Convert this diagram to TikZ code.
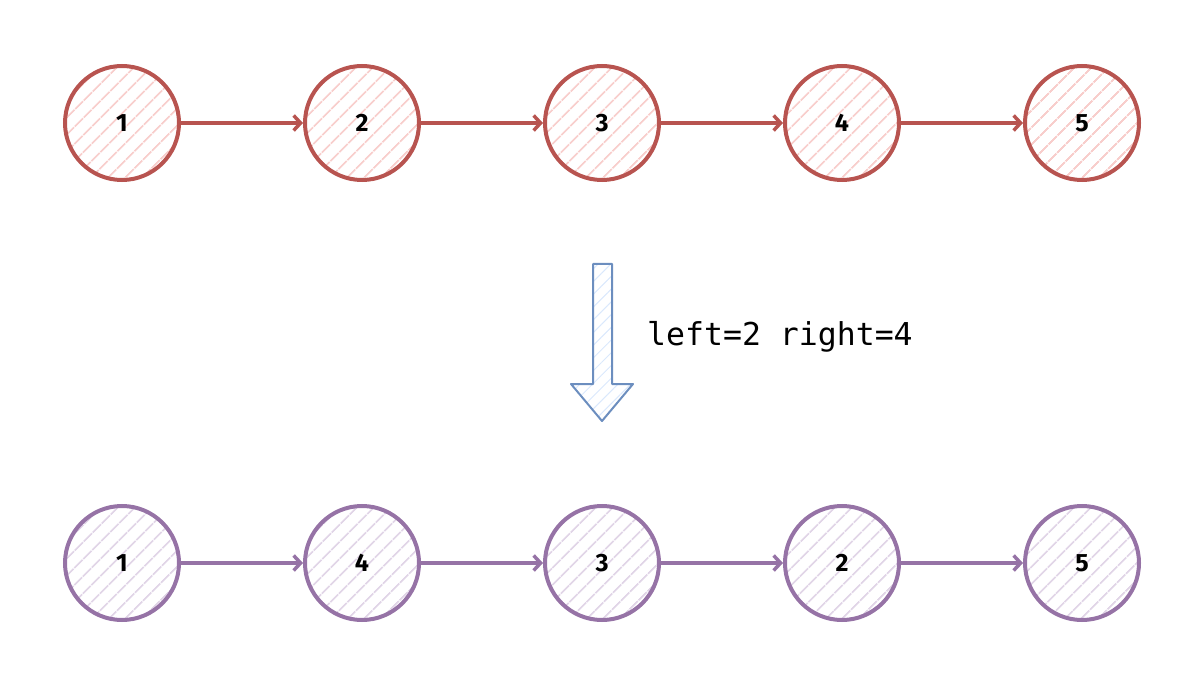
\documentclass[tikz,border=0pt]{standalone}
\usepackage{fontspec}
\setmonofont{DejaVu Sans Mono}
\newfontfamily\digitfont{Fira Sans}
\usetikzlibrary{arrows.meta,patterns.meta}
\definecolor{redline}{HTML}{B85450}
\definecolor{redfill}{HTML}{F8CECC}
\definecolor{purpline}{HTML}{9673A6}
\definecolor{purpfill}{HTML}{E1D5E7}
\definecolor{blueline}{HTML}{6C8EBF}
\definecolor{bluefill}{HTML}{DAE8FC}
\tikzset{
  listnode/.style={circle, minimum size=114pt, inner sep=0pt, line width=4pt,
    font=\digitfont\bfseries\fontsize{25}{27}\selectfont},
  rednode/.style={listnode, draw=redline,
    pattern={Lines[angle=45,distance=13pt,line width=2pt]}, pattern color=redfill},
  purpnode/.style={listnode, draw=purpline,
    pattern={Lines[angle=45,distance=13pt,line width=2pt]}, pattern color=purpfill},
  link/.style={line width=4pt, -{Straight Barb[length=7pt,width=15pt,line width=3.5pt]}},
  redlink/.style={link, draw=redline},
  purplink/.style={link, draw=purpline},
}
\begin{document}
\begin{tikzpicture}[x=1pt,y=-1pt]
\useasboundingbox (0,0) rectangle (1204,684);
% top row
\foreach \i/\t in {1/1,2/2,3/3,4/4,5/5}{
  \node[rednode] (t\i) at ({122+240*(\i-1)},123) {\t};
}
\foreach \i/\t in {1/1,2/4,3/3,4/2,5/5}{
  \node[purpnode] (b\i) at ({122+240*(\i-1)},563) {\t};
}
\foreach \a/\b in {1/2,2/3,3/4,4/5}{
  \draw[redlink] (t\a) -- (t\b);
  \draw[purplink] (b\a) -- (b\b);
}
% block arrow
\path[draw=blueline, line width=2pt, line join=round,
  pattern={Lines[angle=45,distance=9pt,line width=1pt]}, pattern color=bluefill]
  (593,264) -- (612,264) -- (612,384) -- (633,384) -- (602,421) -- (571,384) -- (593,384) -- cycle;
\node[anchor=base west, inner sep=0pt, font=\ttfamily\fontsize{31.5}{34}\selectfont] (lbl) at (647,345) {left=2 right=4};
\end{tikzpicture}
\end{document}
